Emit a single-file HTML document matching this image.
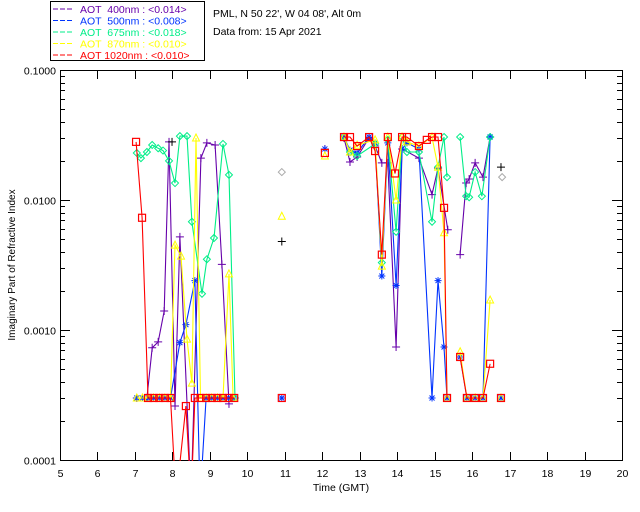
<!DOCTYPE html>
<html><head><meta charset="utf-8"><style>
body{margin:0;background:#fff;}
svg{display:block;font-family:"Liberation Sans",sans-serif;}
</style></head><body>
<svg id="chart" width="640" height="512" viewBox="0 0 640 512">
<g>
<rect x="50.5" y="1.5" width="154" height="59" fill="#fff" stroke="#000"/>
<g font-size="10.5">
<line x1="53" y1="9" x2="74" y2="9" stroke="#6600aa" stroke-dasharray="5,2"/>
<text x="80" y="13" fill="#6600aa" xml:space="preserve">AOT  400nm : &lt;0.014&gt;</text>
<line x1="53" y1="20.5" x2="74" y2="20.5" stroke="#0033ff" stroke-dasharray="5,2"/>
<text x="80" y="24.5" fill="#0033ff" xml:space="preserve">AOT  500nm : &lt;0.008&gt;</text>
<line x1="53" y1="32" x2="74" y2="32" stroke="#00ee88" stroke-dasharray="5,2"/>
<text x="80" y="36" fill="#00ee88" xml:space="preserve">AOT  675nm : &lt;0.018&gt;</text>
<line x1="53" y1="43.5" x2="74" y2="43.5" stroke="#ffff00" stroke-dasharray="5,2"/>
<text x="80" y="47.5" fill="#ffff00" xml:space="preserve">AOT  870nm : &lt;0.010&gt;</text>
<line x1="53" y1="55" x2="74" y2="55" stroke="#ff0000" stroke-dasharray="5,2"/>
<text x="80" y="59" fill="#ff0000" xml:space="preserve">AOT 1020nm : &lt;0.010&gt;</text>
</g>
</g>
<text x="213" y="17" font-size="10.5">PML, N 50 22', W 04 08', Alt 0m</text>
<text x="213" y="35" font-size="10.5">Data from: 15 Apr 2021</text>
<rect x="60.5" y="70.5" width="562" height="390" fill="none" stroke="#000"/>
<g id="axes"></g>
<g id="series" clip-path="url(#clip)"></g>
<defs><clipPath id="clip"><rect x="60" y="70" width="563" height="391"/></clipPath></defs>
<text x="341" y="491" font-size="10.5" text-anchor="middle">Time (GMT)</text>
<text transform="translate(15,265) rotate(-90)" font-size="10" text-anchor="middle">Imaginary Part of Refractive Index</text>
</svg>
<script>
const xTicks=[5,6,7,8,9,10,11,12,13,14,15,16,17,18,19,20];
const yTicks=[0.1,0.01,0.001,0.0001];
const yTickLabels=["0.1000","0.0100","0.0010","0.0001"];
// series data: [time, value]; null = gap
const s400=[[7.05,.0003],[7.32,.0003],[7.46,.00073],[7.62,.00081],[7.78,.0014],[7.91,.028],[8.07,.00026],[8.2,.0052],[8.5,.00005],[8.76,.021],[8.92,.0275],[9.14,.0265],[9.32,.0032],[9.51,.00027],null,
 [12.07,.0247],null,[12.58,.03],[12.74,.0196],[12.93,.0214],[13.25,.03],[13.41,.026],[13.59,.0193],[13.75,.0193],[13.97,.00074],[14.13,.0247],[14.58,.021],[14.93,.011],[15.09,.0176],[15.35,.0059],null,[15.68,.0038],[15.84,.0135],[15.92,.0145],[16.08,.0193],[16.29,.015],[16.48,.0305]];
const s500=[[7.05,.0003],[7.2,.0003],[7.35,.0003],[7.5,.0003],[7.65,.0003],[7.8,.0003],[7.95,.0003],[8.2,.0008],[8.36,.0011],[8.6,.0024],[8.74,.00005],[8.9,.0003],[9.05,.0003],[9.2,.0003],[9.35,.0003],[9.5,.0003],[9.65,.0003],null,[10.92,.0003],null,
 [12.07,.0247],null,[12.58,.0305],[12.74,.0242],[12.93,.023],[13.25,.0305],[13.41,.0275],[13.59,.0026],[13.75,.0275],[13.97,.0022],[14.13,.0247],[14.26,.0275],[14.58,.0247],[14.93,.0003],[15.09,.0024],[15.25,.00074],[15.33,.0003],null,[15.68,.00062],[15.86,.0003],[16.08,.0003],[16.29,.0003],[16.48,.0305],null,[16.77,.0003]];
const s675=[[7.05,.023],[7.16,.021],[7.32,.0234],[7.46,.0265],[7.62,.025],[7.75,.024],[7.91,.020],[8.07,.0135],[8.2,.031],[8.39,.031],[8.52,.0068],[8.79,.0019],[8.92,.0035],[9.11,.0051],[9.35,.027],[9.51,.0156],[9.67,.0003],null,
 [12.58,.0305],[12.74,.0234],[12.93,.0218],[13.41,.027],[13.59,.0033],[13.75,.029],[13.97,.0057],[14.13,.0305],[14.26,.0234],[14.58,.0234],[14.93,.0068],[15.09,.0179],[15.25,.0305],[15.33,.015],null,[15.68,.0305],[15.84,.0107],[15.92,.0105],[16.08,.0164],[16.26,.0107],[16.48,.0305]];
const s870=[[7.05,.0003],[7.2,.0003],[7.35,.0003],[7.5,.0003],[7.65,.0003],[7.8,.0003],[7.95,.0003],[8.07,.0045],[8.23,.0037],[8.39,.00085],[8.52,.00039],[8.63,.03],[8.75,.0003],[8.9,.0003],[9.05,.0003],[9.2,.0003],[9.35,.0003],[9.51,.0027],[9.62,.0003],null,
 [12.07,.0218],null,[12.58,.0305],[12.74,.0234],[12.93,.0264],[13.41,.029],[13.59,.0031],[13.75,.0305],[13.97,.01],[14.13,.0305],[14.26,.028],[14.58,.026],[14.93,.0305],[15.09,.0179],[15.25,.0056],[15.33,.0003],null,[15.68,.00068],[15.86,.0003],[16.08,.0003],[16.29,.0003],[16.48,.0017],null,[16.77,.0003]];
const s1020=[[7.03,.028],[7.19,.0073],[7.35,.0003],[7.5,.0003],[7.65,.0003],[7.8,.0003],[7.95,.0003],[8.1,.00005],[8.36,.00026],[8.5,.00005],[8.6,.0003],[8.75,.0003],[8.9,.0003],[9.05,.0003],[9.2,.0003],[9.35,.0003],[9.5,.0003],[9.65,.0003],null,[10.92,.0003],null,
 [12.07,.023],null,[12.58,.0305],[12.74,.0305],[12.93,.026],[13.25,.0305],[13.41,.0238],[13.59,.0038],[13.75,.0305],[13.94,.016],[14.13,.0305],[14.26,.0305],[14.58,.026],[14.79,.029],[14.93,.0305],[15.09,.0305],[15.25,.0087],[15.33,.0003],null,[15.68,.00062],[15.86,.0003],[16.08,.0003],[16.29,.0003],[16.48,.00055],null,[16.77,.0003]];
const extraPlus=[[7.99,.028],[10.92,.0048],[16.77,.0179]];
const extraTri=[[10.92,.0075]];
const extraDiamond=[[10.92,.0164],[16.8,.0150]];

const NS="http://www.w3.org/2000/svg";
const X=t=>60+(t-5)*562/15;
const Y=v=>200-130*Math.log10(v/0.01);
const axes=document.getElementById('axes'), ser=document.getElementById('series');
function mk(tag,attrs,parent){const e=document.createElementNS(NS,tag);for(const k in attrs)e.setAttribute(k,attrs[k]);parent.appendChild(e);return e;}
xTicks.forEach(t=>{
  const x=Math.round(X(t))+0.5;
  const tk=mk('line',{x1:x,x2:x,y1:460,y2:452,stroke:'#000'},axes);
  
  
  const tk2=mk('line',{x1:x,x2:x,y1:71,y2:79,stroke:'#000'},axes);
  
  
  const lb=mk('text',{x:x,y:477,'font-size':10.5,'text-anchor':'middle'},axes);
  lb.textContent=t;
  
  
});
yTicks.forEach((v,i)=>{
  const y=Math.round(Y(v))+0.5;
  const tk=mk('line',{x1:60,x2:70,y1:y,y2:y,stroke:'#000'},axes);
  
  
  const tk2=mk('line',{x1:612,x2:622,y1:y,y2:y,stroke:'#000'},axes);
  
  
  const lb=mk('text',{x:56,y:y+4,'font-size':10.5,'text-anchor':'end'},axes);
  lb.textContent=yTickLabels[i];
  
  
  if(i<yTicks.length-1){for(let m=2;m<10;m++){const yy=Math.round(Y(v/10*m))+0.5;
    const mt=mk('line',{x1:60,x2:65,y1:yy,y2:yy,stroke:'#000'},axes);
    
    
    const mt2=mk('line',{x1:617,x2:622,y1:yy,y2:yy,stroke:'#000'},axes);
    
    }}
});
function marker(type,x,y,c,g){
  let e;
  if(type==='plus'){e=mk('path',{d:`M${x-4} ${y}H${x+4}M${x} ${y-4}V${y+4}`,stroke:c,'stroke-width':1,fill:'none'},g);}
  else if(type==='star'){e=mk('path',{d:`M${x-3.5} ${y}H${x+3.5}M${x} ${y-3.5}V${y+3.5}M${x-2.5} ${y-2.5}L${x+2.5} ${y+2.5}M${x-2.5} ${y+2.5}L${x+2.5} ${y-2.5}`,stroke:c,'stroke-width':1,fill:'none'},g);}
  else if(type==='diamond'){e=mk('path',{d:`M${x} ${y-3.5}L${x+3.5} ${y}L${x} ${y+3.5}L${x-3.5} ${y}Z`,stroke:c,fill:'none'},g);}
  else if(type==='tri'){e=mk('path',{d:`M${x} ${y-4}L${x+3.5} ${y+3}L${x-3.5} ${y+3}Z`,stroke:c,fill:'none'},g);}
  else {e=mk('rect',{x:x-3.5,y:y-3.5,width:7,height:7,stroke:c,fill:'none','stroke-width':1.2},g);}
  return e;
}
function series(data,c,type,name){
  const g=mk('g',{},ser);
  
  
  let seg=[];const segs=[];
  data.forEach(p=>{if(p===null){segs.push(seg);seg=[];}else seg.push(p);});segs.push(seg);
  segs.forEach(s=>{if(s.length>1){
    const l=mk('polyline',{points:s.map(p=>X(p[0]).toFixed(1)+','+Y(p[1]).toFixed(1)).join(' '),stroke:c,fill:'none','stroke-width':1.1},g);
    
    }});
  data.forEach(p=>{if(p&&p[1]>=0.0001){const m=marker(type,X(p[0]),Y(p[1]),c,g);
    
    }});
}
series(s400,'#6600aa','plus','series-400nm');
series(s500,'#0033ff','star','series-500nm');
series(s675,'#00ee88','diamond','series-675nm');
series(s870,'#ffff00','tri','series-870nm');
series(s1020,'#ff0000','square','series-1020nm');
const gx=mk('g',{},ser);


extraPlus.forEach(p=>{const m=marker('plus',X(p[0]),Y(p[1]),'#000',gx);
  
  });
extraTri.forEach(p=>{const m=marker('tri',X(p[0]),Y(p[1]),'#ffff00',gx);
  
  });
extraDiamond.forEach(p=>{const m=marker('diamond',X(p[0]),Y(p[1]),'#aaaaaa',gx);
  
  });
</script>
</body></html>
